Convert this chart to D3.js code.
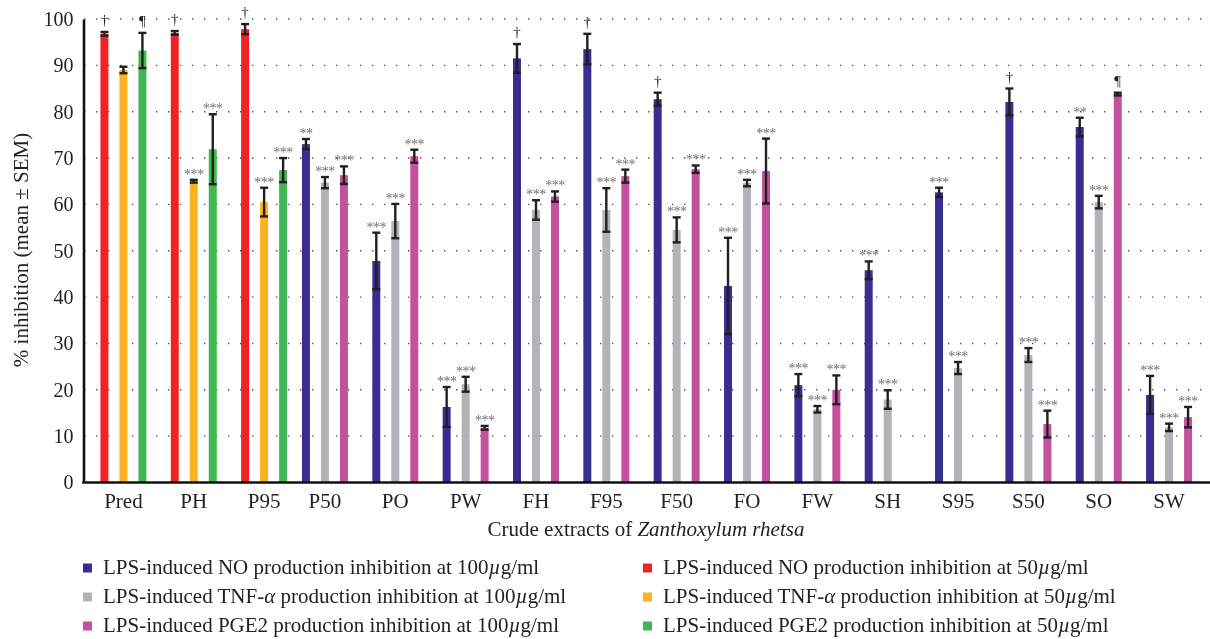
<!DOCTYPE html>
<html>
<head>
<meta charset="utf-8">
<script src="https://cdn.jsdelivr.net/npm/d3@7"></script>
<style>
  body { margin: 0; background: #fff; }
  svg { font-family: "Liberation Serif", "DejaVu Serif", serif; will-change: transform; }
</style>
</head>
<body>
<svg width="1210" height="639"></svg>
<script>
// extracts on the x axis
const categories = ["Pred","PH","P95","P50","PO","PW","FH","F95","F50","FO","FW","SH","S95","S50","SO","SW"];

// NO inhibition at 100 ug/ml
const no100 = [null,null,null,73.0,47.8,16.3,91.5,93.5,82.7,42.4,21.0,45.8,62.6,82.1,76.7,18.9];
const no100Err = [null,null,null,1.1,6.1,4.3,3.1,3.3,1.4,10.4,2.4,1.9,1.0,2.9,2.0,4.1];
const no100Sig = ["","","","**","***","***","†","†","†","***","***","***","***","†","**","***"];

// NO inhibition at 50 ug/ml
const no50 = [96.8,97.0,97.8,null,null,null,null,null,null,null,null,null,null,null,null,null];
const no50Err = [0.4,0.4,1.1,null,null,null,null,null,null,null,null,null,null,null,null,null];
const no50Sig = ["†","†","†","","","","","","","","","","","","",""];

// TNF-alpha inhibition at 100 ug/ml
const tnf100 = [null,null,null,64.7,56.4,21.2,58.8,58.8,54.5,64.6,15.8,17.9,24.7,27.5,60.5,11.9];
const tnf100Err = [null,null,null,1.2,3.7,1.6,2.1,4.7,2.7,0.7,0.7,2.0,1.3,1.5,1.35,0.8];
const tnf100Sig = ["","","","***","***","***","***","***","***","***","***","***","***","***","***","***"];

// TNF-alpha inhibition at 50 ug/ml
const tnf50 = [89.0,65.0,60.5,null,null,null,null,null,null,null,null,null,null,null,null,null];
const tnf50Err = [0.7,0.3,3.1,null,null,null,null,null,null,null,null,null,null,null,null,null];
const tnf50Sig = ["","***","***","","","","","","","","","","","","",""];

// PGE2 inhibition at 100 ug/ml
const pge100 = [null,null,null,66.3,70.4,11.8,61.7,66.1,67.6,67.2,20.0,null,null,12.6,83.8,14.1];
const pge100Err = [null,null,null,1.9,1.4,0.4,1.1,1.4,0.8,7.0,3.1,null,null,2.9,0.3,2.2];
const pge100Sig = ["","","","***","***","***","***","***","***","***","***","","","***","¶","***"];

// PGE2 inhibition at 50 ug/ml
const pge50 = [93.2,71.9,67.4,null,null,null,null,null,null,null,null,null,null,null,null,null];
const pge50Err = [3.8,7.55,2.6,null,null,null,null,null,null,null,null,null,null,null,null,null];
const pge50Sig = ["¶","***","***","","","","","","","","","","","","",""];

const yTicks = [0,10,20,30,40,50,60,70,80,90,100];

// order of the bars inside one group (as in the original grouped chart)
const series = [
  {key:"no100",  values:no100,  err:no100Err,  sig:no100Sig,  color:"#3a2d91"},
  {key:"no50",   values:no50,   err:no50Err,   sig:no50Sig,   color:"#ee2325"},
  {key:"tnf100", values:tnf100, err:tnf100Err, sig:tnf100Sig, color:"#b2b3b7"},
  {key:"tnf50",  values:tnf50,  err:tnf50Err,  sig:tnf50Sig,  color:"#fbb21e"},
  {key:"pge100", values:pge100, err:pge100Err, sig:pge100Sig, color:"#c4519d"},
  {key:"pge50",  values:pge50,  err:pge50Err,  sig:pge50Sig,  color:"#42b652"}
];

let svg = d3.select("svg");

let x = d3.scaleBand().domain(categories).range([83.5,1209]);
let groupW = 57;
let xs = d3.scaleBand().domain(series.map(s=>s.key))
  .range([(x.bandwidth()-groupW)/2,(x.bandwidth()+groupW)/2])
  .paddingInner(0.16).paddingOuter(0.08);
let y = d3.scaleLinear().domain([0,100]).range([482.5,19]);

// dotted grid
let grid = svg.append("g");
for(let i=1;i<yTicks.length;i++){
  grid.append("line")
    .attr("x1",84).attr("x2",1208)
    .attr("y1",y(yTicks[i])).attr("y2",y(yTicks[i]))
    .attr("stroke","#555")
    .attr("stroke-width",1.4)
    .attr("stroke-dasharray","1.4,10.6");
}

// flatten to one record per bar
let bars=[];
series.forEach(function(s){
  categories.forEach(function(c,i){
    if(s.values[i]!=null){
      bars.push({cat:c, key:s.key, v:s.values[i], e:s.err[i], sig:s.sig[i], color:s.color});
    }
  });
});

svg.append("g").selectAll("rect")
  .data(bars).join("rect")
  .attr("x",d=>x(d.cat)+xs(d.key))
  .attr("y",d=>y(d.v))
  .attr("width",xs.bandwidth())
  .attr("height",d=>y(0)-y(d.v))
  .attr("fill",d=>d.color);

// error bars
let eb = svg.append("g").attr("stroke","#231f20").attr("stroke-width",2.4);
bars.forEach(function(d){
  let cx = x(d.cat)+xs(d.key)+xs.bandwidth()/2;
  let y1 = y(d.v+d.e), y2 = y(d.v-d.e);
  eb.append("line").attr("x1",cx).attr("x2",cx).attr("y1",y1).attr("y2",y2);
  eb.append("line").attr("x1",cx-4).attr("x2",cx+4).attr("y1",y1).attr("y2",y1);
  eb.append("line").attr("x1",cx-4).attr("x2",cx+4).attr("y1",y2).attr("y2",y2);
});

// significance marks
let sg = svg.append("g").attr("text-anchor","middle");
bars.forEach(function(d){
  if(d.sig=="") return;
  let cx = x(d.cat)+xs(d.key)+xs.bandwidth()/2;
  let top = y(d.v+d.e);
  if(d.sig.indexOf("*")>=0){
    sg.append("text").attr("x",cx).attr("y",top-1)
      .style("font-size","14px").attr("fill","#6d6e71")
      .attr("letter-spacing","-0.5px")
      .text(d.sig);
  } else {
    sg.append("text").attr("x",cx).attr("y",top-7)
      .style("font-size","15px").attr("fill","#231f20")
      .text(d.sig);
  }
});

// y axis
let yAxis = svg.append("g")
  .attr("transform","translate(83.5,0)")
  .call(d3.axisLeft(y).tickValues(yTicks).tickSize(0).tickPadding(10));
yAxis.attr("font-family","Liberation Serif").attr("font-size",20);
yAxis.select(".domain").attr("stroke","#111").attr("stroke-width",2.6);
yAxis.selectAll("text").attr("fill","#222");

// x axis line
svg.append("line").attr("x1",82.2).attr("x2",1210)
  .attr("y1",y(0)).attr("y2",y(0))
  .attr("stroke","#111").attr("stroke-width",2.6);

// category labels centred on the bars of each group
let lab = svg.append("g").attr("text-anchor","middle").style("font-size","21px").attr("fill","#222");
categories.forEach(function(c,i){
  let used = series.filter(s=>s.values[i]!=null);
  let first = x(c)+xs(used[0].key)+xs.bandwidth()/2;
  // groups always span three slots of the same kind (two steps apart)
  let mid = first + xs.step()*2;
  lab.append("text").attr("x",mid).attr("y",508).text(c);
});

// axis titles
svg.append("text")
  .attr("transform","translate(28,250) rotate(-90)")
  .attr("text-anchor","middle")
  .style("font-size","21px").attr("fill","#222")
  .text("% inhibition (mean ± SEM)");

let xt = svg.append("text").attr("x",646).attr("y",536)
  .attr("text-anchor","middle").style("font-size","21px").attr("fill","#222");
xt.append("tspan").text("Crude extracts of ");
xt.append("tspan").style("font-style","italic").text("Zanthoxylum rhetsa");

// legend
let legendRows = [
  {key:"no100",  col:0, row:0, pre:"LPS-induced NO production inhibition at ", dose:"100", alpha:false},
  {key:"tnf100", col:0, row:1, pre:"LPS-induced TNF-", dose:"100", alpha:true},
  {key:"pge100", col:0, row:2, pre:"LPS-induced PGE2 production inhibition at ", dose:"100", alpha:false},
  {key:"no50",   col:1, row:0, pre:"LPS-induced NO production inhibition at ", dose:"50", alpha:false},
  {key:"tnf50",  col:1, row:1, pre:"LPS-induced TNF-", dose:"50", alpha:true},
  {key:"pge50",  col:1, row:2, pre:"LPS-induced PGE2 production inhibition at ", dose:"50", alpha:false}
];
let lg = svg.append("g").style("font-size","21px").attr("fill","#222");
legendRows.forEach(function(r){
  let lx = r.col==0 ? 83 : 643;
  let ly = 568 + r.row*29;
  let s = series.find(d=>d.key==r.key);
  lg.append("rect").attr("x",lx).attr("y",ly-4.5).attr("width",9).attr("height",9).attr("fill",s.color);
  let t = lg.append("text").attr("x",lx+20).attr("y",ly+5.5);
  if(r.alpha){
    t.append("tspan").text(r.pre);
    t.append("tspan").style("font-style","italic").text("α");
    t.append("tspan").text(" production inhibition at "+r.dose);
  } else {
    t.append("tspan").text(r.pre+r.dose);
  }
  t.append("tspan").style("font-style","italic").text("µ");
  t.append("tspan").text("g/ml");
});
</script>
</body>
</html>
